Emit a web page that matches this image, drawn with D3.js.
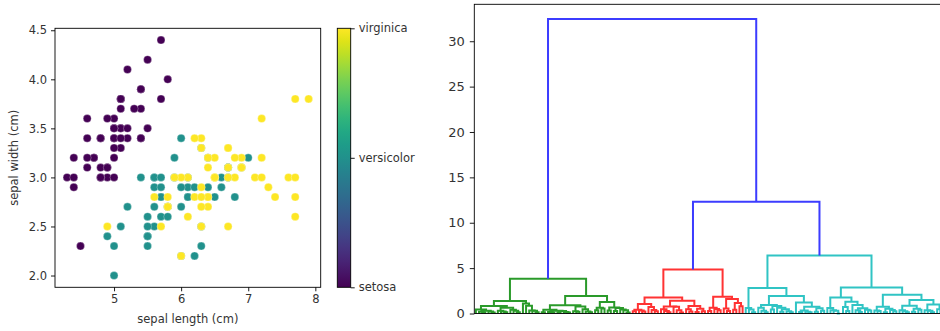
<!DOCTYPE html>
<html>
<head>
<meta charset="utf-8">
<script src="https://cdn.jsdelivr.net/npm/d3@7"></script>
<style>
  body { margin: 0; background: #fff; }
  svg { display: block; font-family: "DejaVu Sans", sans-serif; }
</style>
</head>
<body>
<div id="root"></div>
<script>
// iris data set (sklearn ordering)
const sepalLength = [
  5.1,4.9,4.7,4.6,5.0,5.4,4.6,5.0,4.4,4.9,5.4,4.8,4.8,4.3,5.8,5.7,5.4,5.1,5.7,5.1,5.4,5.1,4.6,5.1,4.8,
  5.0,5.0,5.2,5.2,4.7,4.8,5.4,5.2,5.5,4.9,5.0,5.5,4.9,4.4,5.1,5.0,4.5,4.4,5.0,5.1,4.8,5.1,4.6,5.3,5.0,
  7.0,6.4,6.9,5.5,6.5,5.7,6.3,4.9,6.6,5.2,5.0,5.9,6.0,6.1,5.6,6.7,5.6,5.8,6.2,5.6,5.9,6.1,6.3,6.1,6.4,
  6.6,6.8,6.7,6.0,5.7,5.5,5.5,5.8,6.0,5.4,6.0,6.7,6.3,5.6,5.5,5.5,6.1,5.8,5.0,5.6,5.7,5.7,6.2,5.1,5.7,
  6.3,5.8,7.1,6.3,6.5,7.6,4.9,7.3,6.7,7.2,6.5,6.4,6.8,5.7,5.8,6.4,6.5,7.7,7.7,6.0,6.9,5.6,7.7,6.3,6.7,
  7.2,6.2,6.1,6.4,7.2,7.4,7.9,6.4,6.3,6.1,7.7,6.3,6.4,6.0,6.9,6.7,6.9,5.8,6.8,6.7,6.7,6.3,6.5,6.2,5.9
];
const sepalWidth = [
  3.5,3.0,3.2,3.1,3.6,3.9,3.4,3.4,2.9,3.1,3.7,3.4,3.0,3.0,4.0,4.4,3.9,3.5,3.8,3.8,3.4,3.7,3.6,3.3,3.4,
  3.0,3.4,3.5,3.4,3.2,3.1,3.4,4.1,4.2,3.1,3.2,3.5,3.6,3.0,3.4,3.5,2.3,3.2,3.5,3.8,3.0,3.8,3.2,3.7,3.3,
  3.2,3.2,3.1,2.3,2.8,2.8,3.3,2.4,2.9,2.7,2.0,3.0,2.2,2.9,2.9,3.1,3.0,2.7,2.2,2.5,3.2,2.8,2.5,2.8,2.9,
  3.0,2.8,3.0,2.9,2.6,2.4,2.4,2.7,2.7,3.0,3.4,3.1,2.3,3.0,2.5,2.6,3.0,2.6,2.3,2.7,3.0,2.9,2.9,2.5,2.8,
  3.3,2.7,3.0,2.9,3.0,3.0,2.5,2.9,2.5,3.6,3.2,2.7,3.0,2.5,2.8,3.2,3.0,3.8,2.6,2.2,3.2,2.8,2.8,2.7,3.3,
  3.2,2.8,3.0,2.8,3.0,2.8,3.8,2.8,2.8,2.6,3.0,3.4,3.1,3.0,3.1,3.1,3.1,2.7,3.2,3.3,3.0,2.5,3.0,3.4,3.0
];
const petalLength = [
  1.4,1.4,1.3,1.5,1.4,1.7,1.4,1.5,1.4,1.5,1.5,1.6,1.4,1.1,1.2,1.5,1.3,1.4,1.7,1.5,1.7,1.5,1.0,1.7,1.9,
  1.6,1.6,1.5,1.4,1.6,1.6,1.5,1.5,1.4,1.5,1.2,1.3,1.4,1.3,1.5,1.3,1.3,1.3,1.6,1.9,1.4,1.6,1.4,1.5,1.4,
  4.7,4.5,4.9,4.0,4.6,4.5,4.7,3.3,4.6,3.9,3.5,4.2,4.0,4.7,3.6,4.4,4.5,4.1,4.5,3.9,4.8,4.0,4.9,4.7,4.3,
  4.4,4.8,5.0,4.5,3.5,3.8,3.7,3.9,5.1,4.5,4.5,4.7,4.4,4.1,4.0,4.4,4.6,4.0,3.3,4.2,4.2,4.2,4.3,3.0,4.1,
  6.0,5.1,5.9,5.6,5.8,6.6,4.5,6.3,5.8,6.1,5.1,5.3,5.5,5.0,5.1,5.3,5.5,6.7,6.9,5.0,5.7,4.9,6.7,4.9,5.7,
  6.0,4.8,4.9,5.6,5.8,6.1,6.4,5.6,5.1,5.6,6.1,5.6,5.5,4.8,5.4,5.6,5.1,5.1,5.9,5.7,5.2,5.0,5.2,5.4,5.1
];
const petalWidth = [
  0.2,0.2,0.2,0.2,0.2,0.4,0.3,0.2,0.2,0.1,0.2,0.2,0.1,0.1,0.2,0.4,0.4,0.3,0.3,0.3,0.2,0.4,0.2,0.5,0.2,
  0.2,0.4,0.2,0.2,0.2,0.2,0.4,0.1,0.2,0.2,0.2,0.2,0.1,0.2,0.2,0.3,0.3,0.2,0.6,0.4,0.3,0.2,0.2,0.2,0.2,
  1.4,1.5,1.5,1.3,1.5,1.3,1.6,1.0,1.3,1.4,1.0,1.5,1.0,1.4,1.3,1.4,1.5,1.0,1.5,1.1,1.8,1.3,1.5,1.2,1.3,
  1.4,1.4,1.7,1.5,1.0,1.1,1.0,1.2,1.6,1.5,1.6,1.5,1.3,1.3,1.3,1.2,1.4,1.2,1.0,1.3,1.2,1.3,1.3,1.1,1.3,
  2.5,1.9,2.1,1.8,2.2,2.1,1.7,1.8,1.8,2.5,2.0,1.9,2.1,2.0,2.4,2.3,1.8,2.2,2.3,1.5,2.3,2.0,2.0,1.8,2.1,
  1.8,1.8,1.8,2.1,1.6,1.9,2.0,2.2,1.5,1.4,2.3,2.4,1.8,1.8,2.1,2.4,2.3,1.9,2.3,2.5,2.3,1.9,2.0,2.3,1.8
];
const target = [
  0,0,0,0,0,0,0,0,0,0,0,0,0,0,0,0,0,0,0,0,0,0,0,0,0,0,0,0,0,0,0,0,0,0,0,0,0,0,0,0,0,0,0,0,0,0,0,0,0,0,
  1,1,1,1,1,1,1,1,1,1,1,1,1,1,1,1,1,1,1,1,1,1,1,1,1,1,1,1,1,1,1,1,1,1,1,1,1,1,1,1,1,1,1,1,1,1,1,1,1,1,
  2,2,2,2,2,2,2,2,2,2,2,2,2,2,2,2,2,2,2,2,2,2,2,2,2,2,2,2,2,2,2,2,2,2,2,2,2,2,2,2,2,2,2,2,2,2,2,2,2,2
];
const targetNames = ["setosa", "versicolor", "virginica"];

const xTicksL = [5, 6, 7, 8];
const yTicksL = [2.0, 2.5, 3.0, 3.5, 4.0, 4.5];
const yTicksR = [0, 5, 10, 15, 20, 25, 30];
const colorThreshold = 10;
const clusterColors = ["#2a9a2a", "#ff3333", "#30c4c4"];
const aboveColor = "#3c3cff";

const W = 940, H = 331;
const svg = d3.select("#root").append("svg")
  .attr("width", W).attr("height", H);

// ---------- left: scatter ----------
const L = { x0: 55, x1: 320.7, y0: 28.3, y1: 287.3 };
const pad = (e) => { const m = (e[1] - e[0]) * 0.05; return [e[0] - m, e[1] + m]; };

const xL = d3.scaleLinear().domain(pad(d3.extent(sepalLength))).range([L.x0, L.x1]);
const yL = d3.scaleLinear().domain(pad(d3.extent(sepalWidth))).range([L.y1, L.y0]);
const color = (t) => d3.interpolateViridis(t / 2);

const left = svg.append("g");

left.append("g")
  .selectAll("circle")
  .data(d3.range(sepalLength.length))
  .join("circle")
    .attr("cx", i => xL(sepalLength[i]))
    .attr("cy", i => yL(sepalWidth[i]))
    .attr("r", 4)
    .attr("fill", i => color(target[i]))
    .attr("stroke", "#fff")
    .attr("stroke-width", 0.3);

left.append("rect")
  .attr("x", L.x0).attr("y", L.y0)
  .attr("width", L.x1 - L.x0).attr("height", L.y1 - L.y0)
  .attr("fill", "none").attr("stroke", "#000").attr("stroke-width", 0.9);

const styleAxis = (g, fs) => {
  g.select(".domain").remove();
  g.selectAll("line").attr("stroke", "#000").attr("stroke-width", 0.9);
  g.selectAll("text").attr("fill", "#333").style("font-size", fs + "px")
    .style("font-family", "DejaVu Sans, sans-serif");
};

left.append("g")
  .attr("transform", `translate(0,${L.y1})`)
  .call(d3.axisBottom(xL).tickValues(xTicksL).tickFormat(d3.format("d")).tickSize(4).tickPadding(4))
  .call(g => styleAxis(g, 11.5));

left.append("g")
  .attr("transform", `translate(${L.x0},0)`)
  .call(d3.axisLeft(yL).tickValues(yTicksL).tickFormat(d3.format(".1f")).tickSize(4).tickPadding(4))
  .call(g => styleAxis(g, 11.5));

left.append("text")
  .text("sepal length (cm)")
  .attr("x", (L.x0 + L.x1) / 2).attr("y", 323)
  .attr("text-anchor", "middle").attr("fill", "#333").style("font-size", "11.5px");

left.append("text")
  .text("sepal width (cm)")
  .attr("transform", `translate(18,${(L.y0 + L.y1) / 2})rotate(-90)`)
  .attr("text-anchor", "middle").attr("fill", "#333").style("font-size", "11.5px");

// colorbar
const CB = { x0: 337.3, x1: 350.7 };
const cScale = d3.scaleLinear().domain([0, 2]).range([L.y1, L.y0]);
const grad = svg.append("defs").append("linearGradient")
  .attr("id", "viridis").attr("x1", 0).attr("y1", 1).attr("x2", 0).attr("y2", 0);
grad.selectAll("stop")
  .data(d3.range(0, 1.0001, 0.05))
  .join("stop")
    .attr("offset", d => d * 100 + "%")
    .attr("stop-color", d => d3.interpolateViridis(d));

left.append("rect")
  .attr("x", CB.x0).attr("y", L.y0)
  .attr("width", CB.x1 - CB.x0).attr("height", L.y1 - L.y0)
  .attr("fill", "url(#viridis)").attr("stroke", "#000").attr("stroke-width", 0.9);

left.append("g")
  .attr("transform", `translate(${CB.x1},0)`)
  .call(d3.axisRight(cScale).tickValues([0, 1, 2]).tickFormat(i => targetNames[i]).tickSize(4).tickPadding(4))
  .call(g => styleAxis(g, 11.5));

// ---------- right: ward dendrogram ----------
const n = sepalLength.length;
const pts = d3.range(n).map(i => [sepalLength[i], sepalWidth[i], petalLength[i], petalWidth[i]]);
const D = d3.range(n).map(i => d3.range(n).map(j =>
  Math.sqrt(d3.sum(pts[i], (v, k) => (v - pts[j][k]) ** 2))));
const slotId = d3.range(n), slotSize = d3.range(n).map(() => 1), alive = d3.range(n).map(() => true);
const Z = [];
for (let step = 0; step < n - 1; step++) {
  let best = Infinity, a = -1, b = -1;
  for (let i = 0; i < n; i++) {
    if (!alive[i]) continue;
    for (let j = i + 1; j < n; j++) {
      if (alive[j] && D[i][j] < best) { best = D[i][j]; a = i; b = j; }
    }
  }
  const na = slotSize[a], nb = slotSize[b];
  for (let k = 0; k < n; k++) {
    if (!alive[k] || k === a || k === b) continue;
    const nk = slotSize[k];
    const d = Math.sqrt(((nk + na) * D[a][k] ** 2 + (nk + nb) * D[b][k] ** 2 - nk * best ** 2) / (na + nb + nk));
    D[a][k] = D[k][a] = d;
  }
  const ida = slotId[a], idb = slotId[b];
  Z.push([Math.min(ida, idb), Math.max(ida, idb), best, na + nb]);
  slotId[a] = n + step; slotSize[a] = na + nb; alive[b] = false;
}

const maxH = d3.max(Z, z => z[2]);
const links = [];
let leafCount = 0, colorIdx = 0;
function place(id, col) {
  if (id < n) return { x: 5 + 10 * leafCount++, h: 0 };
  const [a, b, h] = Z[id - n];
  let c = col;
  if (h >= colorThreshold) c = aboveColor;
  else if (col === aboveColor || col == null) c = clusterColors[colorIdx++ % clusterColors.length];
  const l = place(a, c), r = place(b, c);
  links.push({ xl: l.x, hl: l.h, xr: r.x, hr: r.h, h, color: c });
  return { x: (l.x + r.x) / 2, h };
}
place(2 * n - 2, null);

const R = { x0: 474.3, x1: 945, y0: 4.3, y1: 313.5 };
const xR = d3.scaleLinear().domain([0, 10 * n]).range([R.x0, R.x1]);
const yR = d3.scaleLinear().domain([0, maxH * 1.05]).range([R.y1, R.y0]);

const right = svg.append("g");

right.append("g")
  .selectAll("path")
  .data(links)
  .join("path")
    .attr("d", d => `M${xR(d.xl)},${yR(d.hl)}V${yR(d.h)}H${xR(d.xr)}V${yR(d.hr)}`)
    .attr("fill", "none")
    .attr("stroke", d => d.color)
    .attr("stroke-width", 2);

right.append("rect")
  .attr("x", R.x0).attr("y", R.y0)
  .attr("width", R.x1 - R.x0).attr("height", R.y1 - R.y0)
  .attr("fill", "none").attr("stroke", "#000").attr("stroke-width", 0.9);

right.append("g")
  .attr("transform", `translate(${R.x0},0)`)
  .call(d3.axisLeft(yR).tickValues(yTicksR).tickSize(4.5).tickPadding(5))
  .call(g => styleAxis(g, 13));
</script>
</body>
</html>
